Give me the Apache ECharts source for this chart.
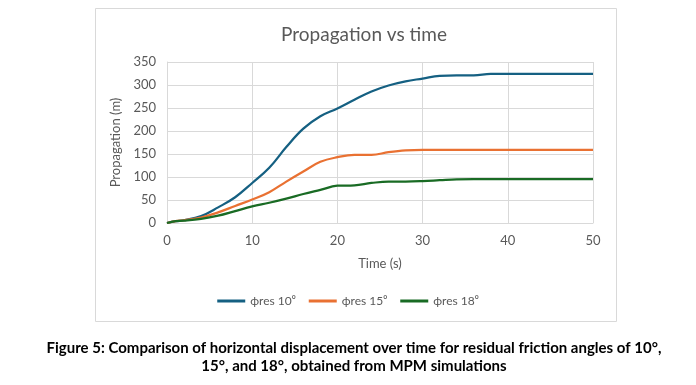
<!DOCTYPE html>
<html>
<head>
<meta charset="utf-8">
<script src="https://cdn.jsdelivr.net/npm/echarts@6/dist/echarts.min.js"></script>
<style>
html,body{margin:0;padding:0;background:#fff;}
#main{width:696px;height:385px;}
</style>
</head>
<body>
<div id="main"></div>
<script>
const time = [0,1,2,4,6,8,10,12,14,16,18,20,22,24,26,28,30,32,34,36,38,40,42,44,46,48,50];
const phi10 = [0,4,6,15,34,56,87,120,165,205,232,249,268,286,299,308,314,320,321,321,324,324,324,324,324,324,324];
const phi15 = [0,4,6,12,23,37,51,67,90,112,133,143,148,148,154,158,159,159,159,159,159,159,159,159,159,159,159];
const phi18 = [0,4,5,9,16,26,36,44,53,63,72,81,82,87,90,90,91,93,95,95.5,95.5,95.5,95.5,95.5,95.5,95.5,95.5];
const seriesNames = ['\u03d5res 10\u2070','\u03d5res 15\u2070','\u03d5res 18\u2070'];
const colors = ['#156082','#E97132','#196B24'];
const captionLines = [
  'Figure 5: Comparison of horizontal displacement over time for residual friction angles of 10\u00b0,',
  '15\u00b0, and 18\u00b0, obtained from MPM simulations'
];

const pair = arr => time.map((t,i)=>[t,arr[i]]);
const chart = echarts.init(document.getElementById('main'), null, {renderer:'canvas'});
const gray = '#595959';
const font = 'Lato, "Open Sans", sans-serif';
chart.setOption({
  animation:false,
  backgroundColor:'#fff',
  title:{text:'Propagation vs time', left:359, top:20, textAlign:'center',
    textStyle:{fontFamily:font, fontWeight:'normal', fontSize:19, color:gray}},
  grid:{left:167, top:62, width:426, height:161, containLabel:false},
  legend:{
    data:seriesNames, top:290, left:'center',
    icon:'rect', itemWidth:28, itemHeight:3, itemGap:13,
    textStyle:{fontFamily:font, fontSize:12, color:gray}
  },
  xAxis:{type:'value', min:0, max:50, interval:10,
    name:'Time (s)', nameLocation:'middle', nameGap:34,
    nameTextStyle:{fontFamily:font, fontSize:13, color:gray},
    axisLine:{show:true, lineStyle:{color:'#d9d9d9'}},
    axisTick:{show:false},
    axisLabel:{fontFamily:font, fontSize:13, color:gray, margin:11},
    splitLine:{show:true, lineStyle:{color:'#d9d9d9', width:1}}},
  yAxis:{type:'value', min:0, max:350, interval:50,
    name:'Propagation (m)', nameLocation:'middle', nameGap:39, nameRotate:90,
    nameTextStyle:{fontFamily:font, fontSize:13, color:gray},
    axisLine:{show:true, lineStyle:{color:'#d9d9d9'}},
    axisTick:{show:false},
    axisLabel:{fontFamily:font, fontSize:13, color:gray, margin:11},
    splitLine:{show:true, lineStyle:{color:'#d9d9d9', width:1}}},
  series:[phi10,phi15,phi18].map((arr,i)=>({
    name:seriesNames[i], type:'line', data:pair(arr), smooth:0.4,
    showSymbol:false, symbol:'none',
    lineStyle:{color:colors[i], width:2.25}, itemStyle:{color:colors[i]}
  })),
  graphic:[
    {type:'rect', shape:{x:95.5, y:8.5, width:521, height:313},
      style:{fill:null, stroke:'#d9d9d9', lineWidth:1}, z:-1},
    ...captionLines.map((line,i)=>({
      type:'text', x:354, y:348+i*18,
      style:{text:line, textAlign:'center', textVerticalAlign:'middle',
        font:'bold 15px Lato, "DejaVu Sans", sans-serif', fill:'#000'}
    }))
  ]
});
</script>
</body>
</html>
